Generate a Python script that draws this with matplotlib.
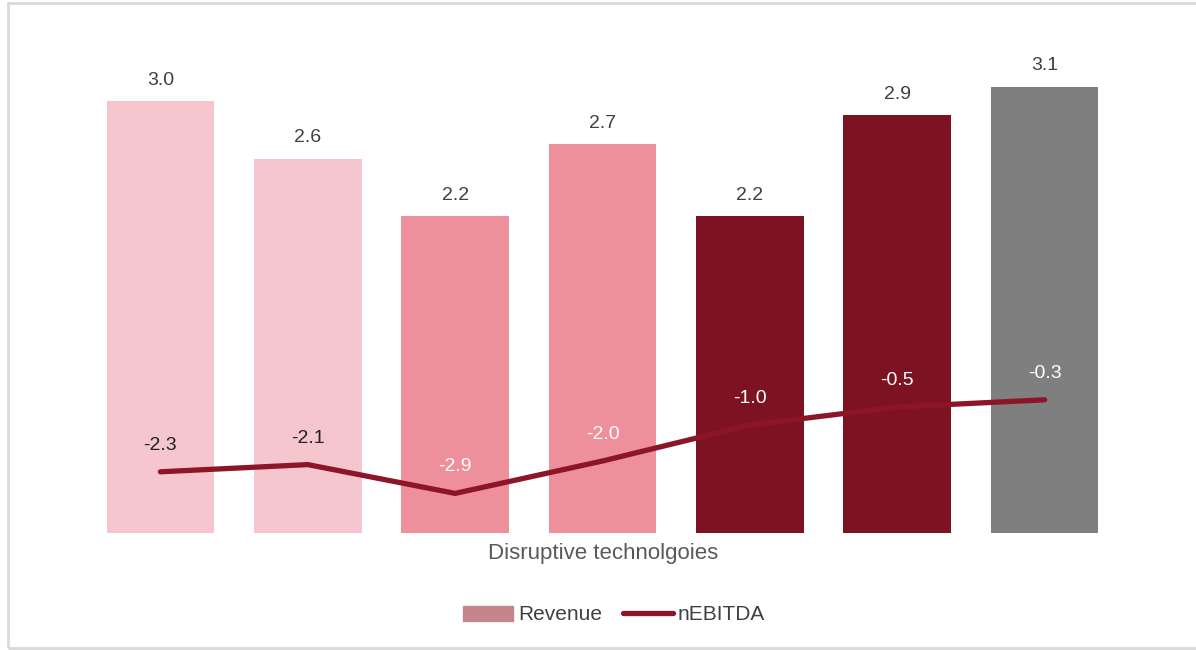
import matplotlib.pyplot as plt
from matplotlib.patches import Rectangle, Patch
from matplotlib.lines import Line2D

plt.rcParams['font.family'] = ['Liberation Sans', 'DejaVu Sans']

# data
categories = ["A", "B", "C", "D", "E", "F", "G"]
revenue = [3.0, 2.6, 2.2, 2.7, 2.2, 2.9, 3.1]
nebitda = [-2.3, -2.1, -2.9, -2.0, -1.0, -0.5, -0.3]
bar_colors = ["#F6C6CF", "#F6C6CF", "#EE8F9C", "#EE8F9C", "#7D1322", "#7D1322", "#7F7F7F"]
line_label_colors = ["#222222", "#222222", "white", "white", "white", "white", "white"]

fig = plt.figure(figsize=(11.96, 6.5), dpi=100)
# outer frame
fig.patches.append(Rectangle((8 / 1196, 2 / 650), 1.5, 645 / 650, transform=fig.transFigure,
                             fill=False, edgecolor="#D9D9D9", linewidth=2))

ax = fig.add_axes([72 / 1196, 117 / 650, 1061 / 1196, 504 / 650])
x = list(range(len(categories)))
bars = ax.bar(x, revenue, width=0.73, color=bar_colors)
ax.set_xlim(-0.6, 6.6)
ax.set_ylim(0, 3.5)
for xi, v in zip(x, revenue):
    ax.annotate(f"{v:.1f}", (xi, v), xytext=(0, 9), textcoords="offset points",
                ha="center", va="bottom", fontsize=14, color="#404040")
ax.axis("off")

ax2 = ax.twinx()
ax2.plot(x, nebitda, color="#8C1628", linewidth=3.8, solid_capstyle="round")
ax2.set_ylim(-4, 10)
ax2.set_xlim(-0.6, 6.6)
for xi, v, c in zip(x, nebitda, line_label_colors):
    ax2.annotate(f"{v:.1f}", (xi, v), xytext=(0, 13), textcoords="offset points",
                 ha="center", va="bottom", fontsize=14, color=c)
ax2.axis("off")

fig.text(603 / 1196, 1 - 553 / 650, "Disruptive technolgoies", ha="center", va="center",
         fontsize=16, color="#595959")

handles = [Patch(color="#C4868C"),
           Line2D([0], [0], color="#8C1628", linewidth=3.8, solid_capstyle="round")]
fig.legend(handles, ["Revenue", "nEBITDA"], loc="center", bbox_to_anchor=(614 / 1196, 1 - 615 / 650),
           ncol=2, frameon=False, fontsize=15, handlelength=2.4, handletextpad=0.25,
           columnspacing=1.0, labelcolor="#404040")

fig.savefig("out.png", dpi=100)
